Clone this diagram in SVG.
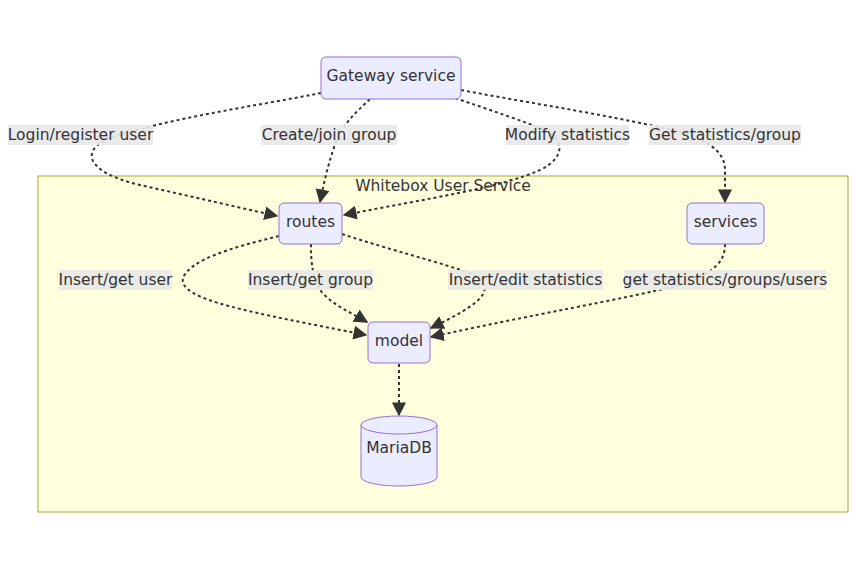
<svg xmlns="http://www.w3.org/2000/svg" width="856" height="570" viewBox="0 0 856 570">
<style>
.node rect,.node path{fill:#ECECFF;stroke:#9370DB;stroke-width:1}
.t{font-family:"DejaVu Sans",Verdana,sans-serif;font-size:15.5px;fill:#333;text-anchor:middle;dominant-baseline:central}
.edge{fill:none;stroke:#333;stroke-width:2;stroke-dasharray:3 3}
.lbl rect{fill:#e8e8e8;opacity:0.9}
</style>
<defs>
<marker id="arr" viewBox="0 0 10 10" refX="9" refY="5" markerWidth="14" markerHeight="14" markerUnits="userSpaceOnUse" orient="auto">
<path d="M0,0 L10,5 L0,10 z" fill="#333"/>
</marker>
</defs>
<rect width="856" height="570" fill="#fff"/>
<g id="cluster">
<rect x="38" y="176" width="810" height="336" fill="#ffffde" stroke="#aaaa33" stroke-width="1"/>
<text class="t" x="443" y="186">Whitebox User Service</text>
</g>
<g id="connectors">
<path class="edge" marker-end="url(#arr)" d="M321,93 C250,107 170,118 110,138 C80,150 85,172 140,185 L277,216"/>
<path class="edge" marker-end="url(#arr)" d="M370,99 C355,113 344,124 338,137 C330,156 324,182 320,202"/>
<path class="edge" marker-end="url(#arr)" d="M455,98 C490,110 520,120 545,130 C565,140 565,158 540,170 C500,188 430,198 344,215"/>
<path class="edge" marker-end="url(#arr)" d="M461,90 C540,105 610,115 680,132 C705,140 725,150 725,170 L725,202"/>
<path class="edge" marker-end="url(#arr)" d="M279,236 C230,248 190,260 183,278 C178,300 250,312 366,335"/>
<path class="edge" marker-end="url(#arr)" d="M311,244 C311,262 312,275 320,290 C332,305 350,312 367,322"/>
<path class="edge" marker-end="url(#arr)" d="M342,234 C390,250 440,262 475,275 C495,290 485,302 431,328"/>
<path class="edge" marker-end="url(#arr)" d="M725,244 C725,262 715,272 680,285 C620,300 530,315 431,337"/>
<path class="edge" marker-end="url(#arr)" d="M399,364 L399,415"/>
</g>
<g id="labels">
<g class="lbl"><rect x="8" y="125" width="145" height="20"/><text class="t" x="80.5" y="135">Login/register user</text></g>
<g class="lbl"><rect x="261" y="125" width="136" height="20"/><text class="t" x="329" y="135">Create/join group</text></g>
<g class="lbl"><rect x="506" y="125" width="123" height="20"/><text class="t" x="567.5" y="135">Modify statistics</text></g>
<g class="lbl"><rect x="649" y="125" width="152" height="20"/><text class="t" x="725" y="135">Get statistics/group</text></g>
<g class="lbl"><rect x="59" y="270" width="113" height="20"/><text class="t" x="115.5" y="280">Insert/get user</text></g>
<g class="lbl"><rect x="248" y="270" width="125" height="20"/><text class="t" x="310.5" y="280">Insert/get group</text></g>
<g class="lbl"><rect x="448" y="270" width="155" height="20"/><text class="t" x="525.5" y="280">Insert/edit statistics</text></g>
<g class="lbl"><rect x="624" y="270" width="202" height="20"/><text class="t" x="725" y="280">get statistics/groups/users</text></g>
</g>
<g id="gateway" class="node"><rect x="321" y="57" width="140" height="42" rx="5"/><text class="t" x="391" y="76">Gateway service</text></g>
<g id="routes" class="node"><rect x="279" y="203" width="63" height="41" rx="5"/><text class="t" x="310.5" y="222">routes</text></g>
<g id="services" class="node"><rect x="687" y="203" width="77" height="41" rx="5"/><text class="t" x="725.5" y="222">services</text></g>
<g id="model" class="node"><rect x="368" y="322" width="62" height="41" rx="5"/><text class="t" x="399" y="341">model</text></g>
<g id="mariadb" class="node">
<path d="M361,425 A38,9 0 0 1 437,425 L437,477 A38,9 0 0 1 361,477 Z"/>
<path d="M361,425 A38,9 0 0 0 437,425" fill="none"/>
<text class="t" x="399" y="448">MariaDB</text>
</g>
</svg>
